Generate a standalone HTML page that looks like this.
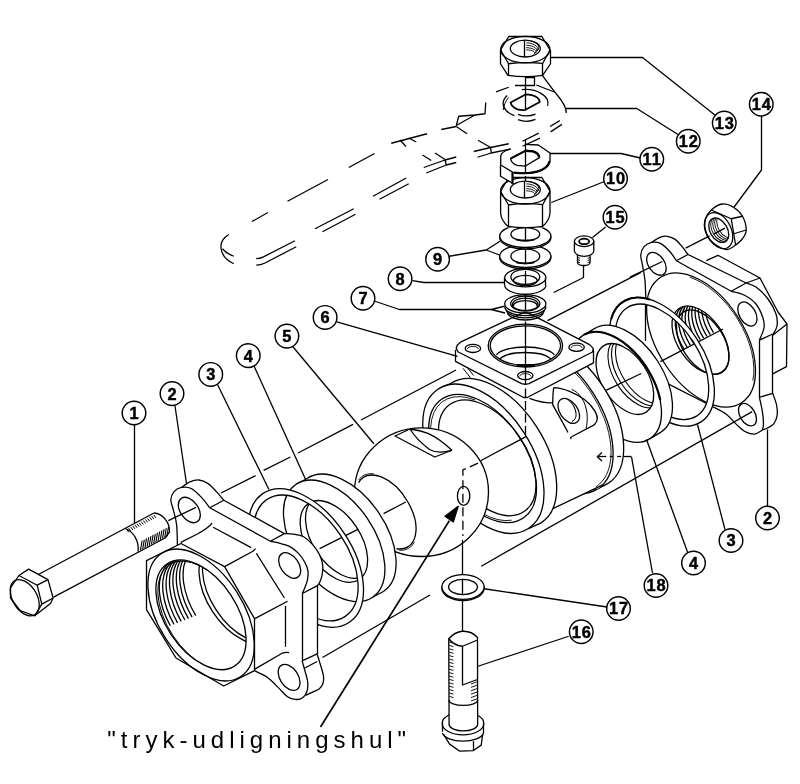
<!DOCTYPE html>
<html lang="da"><head><meta charset="utf-8"><title>Kugleventil - eksploderet tegning</title>
<style>
html,body{margin:0;padding:0;background:#fff}
body{width:800px;height:784px;overflow:hidden}
svg{display:block}
svg text{font-family:"Liberation Sans",sans-serif;fill:#000}
</style></head><body>
<svg style="will-change:transform" width="800" height="784" viewBox="0 0 800 784">
<rect width="800" height="784" fill="#fff"/>
<g fill="none" stroke="#000" stroke-width="1.3" stroke-linejoin="round">
<path d="M706.3 260.7L717.9 255.3L760 278L778 312L787 324L786.5 366.7L772.7 373.9L759.4 397.3L700 330Z" fill="#fff" stroke="none"/>
<path d="M706.3 260.7L717.9 255.3L760 278L778 312L787 324L786.5 366.7L772.7 373.9"/>
<path d="M746.1 283L760 278"/>
<path d="M773 335L787 324"/>
<path d="M645.5 298L644.9 279.7L642.4 264.8L640.8 254.9L644.1 246.6L651.6 242.4L659.9 237.4L667.3 236.3L674.8 239.1L681.4 245.7L688 254.5L746.1 283L756 287L768 299L776 314L777 326L772.5 335L772.5 393.3L776.7 405.5L777.1 415.7L773.7 423.9L767.6 428L762.4 430L762.4 430L754.3 434.1L744.1 431L735.9 423.9L725.7 413.7L712.4 406.5L660 400L645.5 341Z" fill="#fff" stroke="none"/>
<path d="M645.8 298C645.65 294.95 645.47 285.23 644.9 279.7C644.33 274.17 643.08 268.93 642.4 264.8C641.72 260.67 640.52 257.93 640.8 254.9C641.08 251.87 642.3 248.68 644.1 246.6C645.9 244.52 648.97 242.97 651.6 242.4C654.23 241.83 656.87 241.68 659.9 243.2C662.93 244.72 667.05 248.58 669.8 251.5C672.55 254.42 675.3 259.17 676.4 260.7"/>
<path d="M651.6 242.4C652.98 241.57 657.28 238.42 659.9 237.4C662.52 236.38 664.82 236.02 667.3 236.3C669.78 236.58 672.45 237.53 674.8 239.1C677.15 240.67 679.2 243.13 681.4 245.7C683.6 248.27 686.9 253.03 688 254.5"/>
<path d="M676.4 260.7L688 254.5"/>
<ellipse cx="656.4" cy="263.8" rx="12.68" ry="8.07" transform="rotate(55.39 656.4 263.8)"/>
<path d="M645.5 298L645.5 341"/>
<path d="M676.4 260.7L731.2 291.3"/>
<path d="M688 254.5L746.1 283"/>
<path d="M731.2 291.3L746.1 283"/>
<path d="M731.2 291.3C733.33 291.92 739.87 292.88 744 295C748.13 297.12 752.83 300.17 756 304C759.17 307.83 761.67 314 763 318C764.33 322 764.6 324.3 764 328C763.4 331.7 760.17 338.17 759.4 340.2"/>
<path d="M746.1 283C747.75 283.67 752.35 284.33 756 287C759.65 289.67 764.67 294.5 768 299C771.33 303.5 774.5 309.5 776 314C777.5 318.5 777.55 322.5 777 326C776.45 329.5 773.42 333.5 772.7 335"/>
<ellipse cx="747.4" cy="314" rx="13.07" ry="8.08" transform="rotate(59.68 747.4 314)"/>
<path d="M759.4 340.2L772.7 334"/>
<path d="M759.5 340.2L759.5 397.3"/>
<path d="M772.5 334.5L772.5 393.3"/>
<path d="M759.4 397.3L772.7 393.3"/>
<path d="M655 377.2L712.4 406.5"/>
<path d="M712.4 406.5C714.62 407.7 721.78 410.8 725.7 413.7C729.62 416.6 732.83 421.02 735.9 423.9C738.97 426.78 741.03 429.3 744.1 431C747.17 432.7 751.25 434.27 754.3 434.1C757.35 433.93 761.05 430.68 762.4 430"/>
<path d="M759.4 397.3C759.9 399.68 761.72 407.17 762.4 411.6C763.08 416.03 763.5 420.83 763.5 423.9C763.5 426.97 762.58 428.98 762.4 430"/>
<path d="M772.7 393.3C773.37 395.33 775.97 401.77 776.7 405.5C777.43 409.23 777.6 412.63 777.1 415.7C776.6 418.77 775.28 421.85 773.7 423.9C772.12 425.95 769.48 426.98 767.6 428C765.72 429.02 763.27 429.67 762.4 430"/>
<ellipse cx="747.5" cy="414.7" rx="12.22" ry="7.56" transform="rotate(59.43 747.5 414.7)"/>
<ellipse cx="701.05" cy="340" rx="74.63" ry="43.4" transform="rotate(57.21 701.05 340)" fill="#fff"/>
<path d="M690.06 277.33A72.41 42.12 57.19 0 1 752.87 380.68" stroke-width="0.9"/>
<ellipse cx="700.5" cy="340.15" rx="38.35" ry="22.53" transform="rotate(55.78 700.5 340.15)"/>
<clipPath id="c1"><path d="M722.06 371.86A38.35 22.53 55.78 0 1 678.94 308.44A38.35 22.53 55.78 0 1 722.06 371.86Z"/></clipPath><g clip-path="url(#c1)">
<path d="M706.7 309.78A38.35 22.53 55.78 0 0 683.81 348.95"/>
<path d="M710 307.98A38.35 22.53 55.78 0 0 687.11 347.15"/>
<path d="M713.3 306.18A38.35 22.53 55.78 0 0 690.41 345.35"/>
<path d="M716.6 304.38A38.35 22.53 55.78 0 0 693.71 343.55"/>
<path d="M719.9 302.58A38.35 22.53 55.78 0 0 697.01 341.75"/>
<path d="M723.2 300.78A38.35 22.53 55.78 0 0 700.31 339.95"/>
<path d="M726.5 298.98A38.35 22.53 55.78 0 0 703.61 338.15"/>
<path d="M729.8 297.18A38.35 22.53 55.78 0 0 706.91 336.35"/>
<path d="M733.1 295.38A38.35 22.53 55.78 0 0 710.21 334.55"/>
<path d="M736.4 293.58A38.35 22.53 55.78 0 0 713.48 332.69"/>
</g>
<ellipse cx="702.75" cy="342.15" rx="35.86" ry="20.9" transform="rotate(56.97 702.75 342.15)"/>
<path d="M660.4 361.6L723 329"/>
<path d="M705 220C706.04 216.67 708.33 212.67 711.25 210C714.17 207.33 718.75 204.42 722.5 204C726.25 203.58 730.42 205.46 733.75 207.5C737.08 209.54 740.42 212.5 742.5 216.25C744.58 220 746.25 226.25 746.25 230C746.25 233.75 744.27 236.25 742.5 238.75C740.73 241.25 738.02 243.22 735.6 245C733.18 246.78 730.6 248.98 728 249.4C725.4 249.82 723 249.07 720 247.5C717 245.93 712.5 242.92 710 240C707.5 237.08 705.83 233.33 705 230C704.17 226.67 703.96 223.33 705 220Z" fill="#fff"/>
<path d="M711.25 210L731.25 218.75L742.5 216.25"/>
<path d="M731.25 218.75L733.75 233.75L735.6 245"/>
<path d="M733.75 233.75L746.25 230"/>
<ellipse cx="718.75" cy="230.6" rx="19.21" ry="12.29" transform="rotate(62.98 718.75 230.6)"/>
<ellipse cx="718.75" cy="230.2" rx="13.18" ry="8.67" transform="rotate(59.88 718.75 230.2)"/>
<clipPath id="c2"><path d="M725.36 241.6A13.18 8.67 59.88 0 1 712.14 218.8A13.18 8.67 59.88 0 1 725.36 241.6Z"/></clipPath><g clip-path="url(#c2)">
<ellipse cx="720.75" cy="229.1" rx="13.18" ry="8.67" transform="rotate(59.88 720.75 229.1)" stroke-width="0.9"/>
<ellipse cx="722.75" cy="228" rx="13.18" ry="8.67" transform="rotate(59.88 722.75 228)" stroke-width="0.9"/>
<ellipse cx="724.75" cy="226.9" rx="13.18" ry="8.67" transform="rotate(59.88 724.75 226.9)" stroke-width="0.9"/>
<ellipse cx="726.75" cy="225.8" rx="13.18" ry="8.67" transform="rotate(59.88 726.75 225.8)" stroke-width="0.9"/>
</g>
<path d="M713.5 234.2L725 228.2"/>
<path d="M630 277.2L662.3 261.5"/>
<path d="M685.6 248.2L709.6 235.8"/>
<path d="M701.02 421.84A71.6 41.72 56.98 0 1 622.98 301.76A71.6 41.72 56.98 0 1 701.02 421.84ZM696.9 415.92A64.4 37.46 57.18 0 1 627.1 307.68A64.4 37.46 57.18 0 1 696.9 415.92Z" fill="#fff" fill-rule="evenodd"/>
<path d="M611.17 319.31A71.6 41.72 56.98 0 1 649.91 299.52" stroke-width="2.0"/>
<path d="M649.98 438.64A61.54 35.84 57.05 0 1 583.02 335.36A61.54 35.84 57.05 0 1 649.98 438.64ZM660.98 432.14A61.54 35.84 57.05 0 1 594.02 328.86A61.54 35.84 57.05 0 1 660.98 432.14Z" fill="#fff" stroke="none"/>
<path d="M594.02 328.86A61.54 35.84 57.05 0 1 657.57 361.01A61.54 35.84 57.05 0 1 660.98 432.14"/>
<path d="M649.98 438.64L660.98 432.14L594.02 328.86L583.02 335.36Z" fill="#fff" stroke="none"/>
<path d="M649.98 438.64L660.98 432.14"/>
<path d="M583.02 335.36L594.02 328.86"/>
<ellipse cx="616.5" cy="387" rx="61.54" ry="35.84" transform="rotate(57.05 616.5 387)" fill="#fff"/>
<path d="M584.17 334.66A61.54 35.84 57.05 0 1 660.22 400.07" stroke-width="2.2"/>
<ellipse cx="624.85" cy="379" rx="39.47" ry="22.98" transform="rotate(57.06 624.85 379)"/>
<clipPath id="c3"><path d="M646.31 412.12A39.47 22.98 57.06 0 1 603.39 345.88A39.47 22.98 57.06 0 1 646.31 412.12Z"/></clipPath><g clip-path="url(#c3)">
<ellipse cx="636.85" cy="372.4" rx="39.47" ry="22.98" transform="rotate(57.06 636.85 372.4)" stroke-width="1.1"/>
<ellipse cx="640.35" cy="370.48" rx="39.47" ry="22.98" transform="rotate(57.06 640.35 370.48)" stroke-width="1.1"/>
<ellipse cx="644.35" cy="368.27" rx="39.47" ry="22.98" transform="rotate(57.06 644.35 368.27)" stroke-width="1.1"/>
</g>
<path d="M606 390.3L641.2 373.5"/>
<path d="M608.11 483.42A83.15 48.4 57.1 0 1 517.79 343.78A83.15 48.4 57.1 0 1 608.11 483.42ZM597.51 488.92A83.15 48.4 57.1 0 1 507.19 349.28A83.15 48.4 57.1 0 1 597.51 488.92Z" fill="#fff" stroke="none"/>
<path d="M517.79 343.78A83.15 48.4 57.1 0 1 603.59 387.32A83.15 48.4 57.1 0 1 608.11 483.42"/>
<path d="M597.51 488.92L608.11 483.42"/>
<ellipse cx="552.35" cy="419.1" rx="83.15" ry="48.4" transform="rotate(57.1 552.35 419.1)" fill="#fff"/>
<path d="M524.84 346.8A80.53 46.83 57.22 0 1 604.26 418.43A80.53 46.83 57.22 0 1 579.86 491.4" stroke-width="0.9"/>
<path d="M451.04 383.31L507.19 349.28L597.51 488.92L602.8 484.9L540 514.75Z" fill="#fff" stroke="none"/>
<path d="M540 514.75L602.8 484.9"/>
<path d="M553.6 387.7C553 394 552.6 400 552.7 404.6C556 411 561 419 568 432.5M553.6 387.7C563 388 576 393 585 400C594 407 597.5 415 597.3 419C597 422.5 595 424 593.8 425.2L573 436C571 437 569.5 438.5 571.4 438.6"/>
<path d="M571.8 389.5C580 392.5 585.5 402 587 413C587.6 420 587 425 586 428.5" stroke-width="1.0"/>
<ellipse cx="568.8" cy="410.9" rx="13.93" ry="8.88" transform="rotate(55.07 568.8 410.9)"/>
<clipPath id="c4"><path d="M576.77 422.32A13.93 8.88 55.07 0 1 560.83 399.48A13.93 8.88 55.07 0 1 576.77 422.32Z"/></clipPath><g clip-path="url(#c4)">
<path d="M565.92 398.3A13.93 8.88 55.07 0 1 571.98 421.46" stroke-width="1.1"/>
</g>
<path d="M529.5 398.4C535 400.5 543 403.2 552.7 402.9"/>
<path d="M528.41 528.54A83.04 48.31 57.16 0 1 438.34 389.01A83.04 48.31 57.16 0 1 528.41 528.54ZM541.11 522.84A83.04 48.31 57.16 0 1 451.04 383.31A83.04 48.31 57.16 0 1 541.11 522.84Z" fill="#fff" stroke="none"/>
<path d="M451.04 383.31A83.04 48.31 57.16 0 1 536.67 426.88A83.04 48.31 57.16 0 1 541.11 522.84"/>
<path d="M528.41 528.54L541.11 522.84"/>
<path d="M438.34 389.01L451.04 383.31"/>
<ellipse cx="483.38" cy="458.77" rx="83.04" ry="48.31" transform="rotate(57.16 483.38 458.77)" fill="#fff"/>
<ellipse cx="482.62" cy="458.5" rx="72.07" ry="42.48" transform="rotate(55.31 482.62 458.5)"/>
<path d="M511.63 520.22A69.78 41.1 55.41 0 1 431.64 419.72" stroke-width="0.9"/>
<path d="M431.64 419.72A69.78 41.1 55.41 0 1 475.26 400.04" stroke-width="0.9"/>
<ellipse cx="487.25" cy="457.8" rx="65.13" ry="38.42" transform="rotate(55.2 487.25 457.8)"/>
<path d="M480.6 460.7L526 436.6"/>
<path d="M597.3 456.5L606.3 456.5"/>
<path d="M609.7 456.5L613.1 456.5"/>
<path d="M617.2 456.5L621.2 456.5"/>
<path d="M623.5 456.5L631.5 456.5"/>
<path d="M602 452.6L597.3 456.8L602 461"/>
<path d="M463 368.3L471.4 379M467 367L473.5 375.5" stroke-width="1.0"/>
<path d="M456.2 348.6L455.5 350L455.5 361.4L523.5 397.5L527.2 397.5L593.5 362.8L593.5 349.5L589.6 344.6Z" fill="#fff" stroke="none"/>
<path d="M455.5 350L455.5 361.4L523.5 397.5L527.2 397.5L593.5 362.8L593.5 349.5"/>
<path d="M456.2 348.6L457.2 345.2L461 341.8L521 313.6L525.3 312.6L529.6 313.6L589.6 344.6L593.2 348.4L592.6 352L529 383.6L525.3 384.4L521.6 383.6L458.2 352Z" fill="#fff"/>
<ellipse cx="472.9" cy="348.4" rx="7.7" ry="4.1"/>
<ellipse cx="576.6" cy="347.2" rx="7.7" ry="4.1"/>
<ellipse cx="525.3" cy="375.6" rx="7.7" ry="4.1"/>
<path d="M467.3 349.2A5.6 2.8 0 0 1 472.9 346.4A5.6 2.8 0 0 1 478.5 349.2" stroke-width="0.9"/>
<path d="M571 348A5.6 2.8 0 0 1 576.6 345.2A5.6 2.8 0 0 1 582.2 348" stroke-width="0.9"/>
<path d="M519.7 376.4A5.6 2.8 0 0 1 525.3 373.6A5.6 2.8 0 0 1 530.9 376.4" stroke-width="0.9"/>
<ellipse cx="525.4" cy="345.6" rx="37.2" ry="21.4"/>
<ellipse cx="525.4" cy="345.6" rx="35.2" ry="19.8"/>
<path d="M496.42 354.78A30 10.5 0 0 1 554.38 354.78"/>
<path d="M500.03 358.75A27 9.5 0 0 1 550.77 358.75"/>
<path d="M516.6 365.4L535 365.4" stroke-width="2.6"/>
<ellipse cx="421.5" cy="492.2" rx="67" ry="64.3" fill="#fff"/>
<path d="M410 429L395 436L434.75 457L452 450.25"/>
<path d="M410 429C417 430 423 431.5 428 433.4C435 436.5 444 443 452 450.25"/>
<path d="M410 429C413 434 419 441.5 429.5 449.5C436 453.2 444 452.5 451.5 450.4"/>
<path d="M358.69 482.57A41.23 23.99 57.16 0 1 408.03 502.24A41.23 23.99 57.16 0 1 396.52 548.74"/>
<path d="M358.45 480.12A42.81 24.93 57.06 0 1 373.92 473.74" stroke-width="0.9"/>
<path d="M414.59 541.82A42.81 24.93 57.06 0 1 399.23 550.37" stroke-width="0.9"/>
<path d="M383.6 513.6L405.8 502"/>
<ellipse cx="463.6" cy="495.9" rx="6.2" ry="9.5"/>
<path d="M478.1 463.2L462.9 469.8L462.9 536" stroke-dasharray="9 4.5"/>
<path d="M320.5 727L449.4 520.6" stroke-width="1.7"/>
<path d="M458.2 506.3L445 516.2L453.3 522Z" fill="#000"/>
<path d="M500.5 50L508.7 36.5L541.9 36.5L550.5 50L550.5 63.6L542.5 76.5L508.1 76.5L500.5 63.6Z" fill="#fff" stroke="none"/>
<path d="M500.6 50L508.7 36.5L541.9 36.5L550 50"/>
<ellipse cx="525.3" cy="49.6" rx="24.6" ry="13.3"/>
<ellipse cx="525.3" cy="48.6" rx="15" ry="8.4"/>
<path d="M526.48 40.43A13.5 7.2 0 0 1 537.54 50.64" stroke-width="0.9"/>
<path d="M526.39 42.82A12.5 6.2 0 0 1 536.63 51.62" stroke-width="0.9"/>
<path d="M526.3 45.22A11.5 5.2 0 0 1 535.72 52.6" stroke-width="0.9"/>
<path d="M526.22 47.62A10.5 4.2 0 0 1 534.82 53.57" stroke-width="0.9"/>
<path d="M526.13 49.81A9.5 3.2 0 0 1 533.91 54.35" stroke-width="0.9"/>
<path d="M524.5 40.2L524.5 57"/>
<path d="M500.6 50L508.5 63.75L508.5 75.1"/>
<path d="M550 50L542.5 63.75L542.5 75.1"/>
<path d="M508.1 63.75Q525.3 61.5 542.5 63.4"/>
<path d="M500.5 50L500.5 63.75L508.1 75.6"/>
<path d="M550.5 50L550.5 63.75L542.5 75.6"/>
<path d="M508.1 75.4Q525.3 78 542.5 75.4"/>
<path d="M525.5 77L525.5 110.5"/>
<path d="M525.3 77.5L534.5 77.5L534.5 85.5L515 85.5"/>
<ellipse cx="525.3" cy="257.7" rx="25.6" ry="11.3" fill="#fff"/>
<ellipse cx="525.3" cy="256.2" rx="25.6" ry="11.3" fill="#fff"/>
<ellipse cx="525.3" cy="256.2" rx="14.4" ry="7.4"/>
<path d="M516.3 262.4Q525.3 264.2 534.3 262.4" stroke-width="1.8"/>
<ellipse cx="525.3" cy="237.7" rx="25.6" ry="11.3" fill="#fff"/>
<ellipse cx="525.3" cy="236.2" rx="25.6" ry="11.3" fill="#fff"/>
<ellipse cx="525.3" cy="234.2" rx="14.4" ry="6.6"/>
<path d="M516.3 239.6Q525.3 241.39999999999998 534.3 239.6" stroke-width="1.8"/>
<path d="M525.5 228.4L525.5 240.5"/>
<path d="M525.5 249.5L525.5 263.5"/>
<path d="M500.5 191.25L508.7 177.5L541.9 177.5L550.5 191.25L550.5 215L542.5 227.5L508.1 227.5L500.5 215Z" fill="#fff" stroke="none"/>
<path d="M500.6 191.25L508.7 177.5L541.9 177.5L550 191.25"/>
<ellipse cx="525.3" cy="190.85" rx="24.6" ry="13.3"/>
<ellipse cx="525.3" cy="189.6" rx="15" ry="8.4"/>
<path d="M526.48 181.43A13.5 7.2 0 0 1 537.54 191.64" stroke-width="0.9"/>
<path d="M526.39 183.82A12.5 6.2 0 0 1 536.63 192.62" stroke-width="0.9"/>
<path d="M526.3 186.22A11.5 5.2 0 0 1 535.72 193.6" stroke-width="0.9"/>
<path d="M526.22 188.62A10.5 4.2 0 0 1 534.82 194.57" stroke-width="0.9"/>
<path d="M526.13 190.81A9.5 3.2 0 0 1 533.91 195.35" stroke-width="0.9"/>
<path d="M524.5 181.2L524.5 198"/>
<path d="M500.6 191.25L508.5 205L508.5 226.5"/>
<path d="M550 191.25L542.5 205L542.5 226.5"/>
<path d="M508.1 205Q525.3 202.5 542.5 204.6"/>
<path d="M500.6 191.25L500.6 213C501.1 219 505.1 224 508.1 226.6"/>
<path d="M550.0 191.25L550.0 213C549.5 219 545.5 224 542.5 226.6"/>
<path d="M508.1 226.4Q525.3 229 542.5 226.4"/>
<path d="M525.5 176L525.5 181"/>
<path d="M510.6 149.2C504.5 150.3 501 152.6 500.7 156.5L500.7 176.25L512.9 183.4L512.9 172.4C521 173.6 530 173.3 536 172C543 170.5 549.5 166 550 161L550 153L538.3 145L525 144.3Z" fill="#fff" stroke="none"/>
<path d="M510.6 149.2C504.5 150.3 501 152.6 500.7 156.5L500.7 165M525 144.3L538.3 145L550 153L550 161C549.5 166 543 170.5 536 172C530 173.3 521 173.6 513 172.4L500.7 165"/>
<path d="M514 172.6C522 173.6 531 173.2 537 171.6C543.5 170 549 166 549.6 161" stroke-width="2.2"/>
<path d="M500.5 165L500.5 176.25L512.6 183.2"/>
<path d="M512.5 172.4L512.5 184" stroke-width="2.2"/>
<path d="M510.6 158.6L525.5 150.6L533 151.2C537 152.5 539.2 155 539.4 157.6L525 166.2L517 165.3C513.5 164 511 161.5 510.6 158.6Z"/>
<path d="M525.5 150.8L533 151.4C537 152.7 539 155 539.2 157.4" stroke-width="2.4"/>
<path d="M510.9 158.4L525.5 150.8" stroke-width="2.0"/>
<path d="M525.5 140L525.5 173"/>
<ellipse cx="525.3" cy="277.6" rx="20.6" ry="9.2"/>
<ellipse cx="525.3" cy="276.9" rx="14.4" ry="7.6"/>
<ellipse cx="525.3" cy="280.5" rx="11.9" ry="5.2"/>
<path d="M504.5 277.6L504.5 285"/>
<path d="M545.5 277.6L545.5 285"/>
<path d="M545.9 285A20.6 9.2 0 0 1 525.3 294.2A20.6 9.2 0 0 1 504.7 285"/>
<path d="M525.5 271L525.5 284"/>
<ellipse cx="525.3" cy="303.8" rx="20.6" ry="9.2"/>
<ellipse cx="525.3" cy="303.6" rx="14.6" ry="7.6"/>
<ellipse cx="525.3" cy="304.4" rx="12.8" ry="6.2"/>
<path d="M513.3 306A12 5.4 0 0 1 525.3 300.6A12 5.4 0 0 1 537.3 306"/>
<path d="M545.9 306.4A20.6 9.2 0 0 1 525.3 315.6A20.6 9.2 0 0 1 504.7 306.4"/>
<path d="M544.51 310.22A19.4 8.8 0 0 1 506.09 310.22"/>
<path d="M543.3 313.35A18.4 8.4 0 0 1 507.3 313.35"/>
<path d="M525.5 295L525.5 311"/>
<path d="M525.5 321.5L525.5 376"/>
<path d="M525.5 376L525.5 437" stroke-dasharray="9 3.5"/>
<path d="M252 221.5L268 212.5"/>
<path d="M287.5 201.25L328 179.5"/>
<path d="M348.75 167.5L374.5 153.5"/>
<path d="M391.25 143.25L427 133.75"/>
<path d="M315 228.75L353.75 208.75"/>
<path d="M322.5 231.75L355.5 214.25"/>
<path d="M373 196.25L406.25 178"/>
<path d="M379.5 199.25L408.75 183.75"/>
<path d="M400 140L406 146.5"/>
<path d="M408.75 138L416.25 142"/>
<path d="M441.25 129.5L456.25 126.5"/>
<path d="M456.25 126.5L467 133.75"/>
<path d="M456.25 125.5L475 115"/>
<path d="M422.5 155L431.25 160.5"/>
<path d="M435 153L445 159.5"/>
<path d="M445 159.5L446.25 165"/>
<path d="M478 140.25L490.6 147.5"/>
<path d="M490.6 147.5L491.25 153"/>
<path d="M522.5 141.25L538.75 133.1"/>
<path d="M522.5 146.25L540 138.1"/>
<path d="M550 126.5L559.75 120.6"/>
<path d="M550.6 131.9L561.9 124.4"/>
<path d="M496 91.9L508.75 87.25"/>
<path d="M536.25 85L555 92.25"/>
<path d="M256.25 258.6C259 258.6 261 258 263.5 256.8L295 240.75"/>
<path d="M256.25 265.2C259 265.2 262 264.5 265 263L296.25 246.75"/>
<path d="M228.75 234.5C223 238 220.5 243 221 248C221.5 254 226 260 233.75 263.75"/>
<path d="M222.5 248.75C225 252 229 254.5 233.75 256.25"/>
<path d="M456.25 125.5L458.75 116.25L475 115L485 113.75L485.75 102.5"/>
<path d="M423.75 167.5L445 160L456.25 157"/>
<path d="M426.25 173L446.25 165L456.25 162.5"/>
<path d="M473.75 151.5L490.6 147.5L508.75 143.75"/>
<path d="M477.5 157.25L491.25 153L510.6 149"/>
<path d="M510.6 102.5L525.6 94.4C530 94.6 534 95.6 536.25 96.9C538.5 98.3 539.6 100 539.75 101.9L525 110C522 110.2 519.5 109.9 517.5 109.4C514 108 511.2 105.5 510.6 102.5Z" stroke-width="1.7"/>
<path d="M521.71 89.71A22.4 14 0 0 1 547.66 105.93"/>
<path d="M514.4 115.62A22.4 14 0 0 1 507.25 95.47"/>
<path d="M535.5 114.09A18 12.8 0 0 1 518.05 114.3"/>
<path d="M535.5 119.43A18 13.2 0 0 1 518.05 119.65"/>
<path d="M542.5 75.6C548 83 553 90 558 96C563 102 566.3 107 566.3 113"/>
<path d="M503.2 110C504 105 505.5 101 508.5 97.5" stroke-width="1.0"/>
<path d="M577.5 254L577.5 262.5A6.3 3 0 0 0 590.1 262.5L590.1 254" fill="#fff"/>
<path d="M574.4 241.25L574.4 251A9.7 5.3 0 0 0 593.8 251L593.8 241.25Z" fill="#fff"/>
<ellipse cx="584.1" cy="241.25" rx="9.7" ry="5.3" fill="#fff"/>
<ellipse cx="584.1" cy="241.4" rx="5" ry="2.75" stroke-width="1.8"/>
<path d="M577.5 257.6L580 258.2" stroke-width="0.9"/>
<path d="M587.6 258.2L590.1 257.6" stroke-width="0.9"/>
<path d="M577.5 259.8L580 260.4" stroke-width="0.9"/>
<path d="M587.6 260.4L590.1 259.8" stroke-width="0.9"/>
<path d="M577.5 262L580 262.6" stroke-width="0.9"/>
<path d="M587.6 262.6L590.1 262" stroke-width="0.9"/>
<path d="M583.5 265L583.5 277.5L553.75 292.5"/>
<path d="M372.58 597.25A68.18 40.08 55.74 0 1 295.82 484.55A68.18 40.08 55.74 0 1 372.58 597.25ZM383.78 591.25A68.18 40.08 55.74 0 1 307.02 478.55A68.18 40.08 55.74 0 1 383.78 591.25Z" fill="#fff" stroke="none"/>
<path d="M372.58 597.25L383.78 591.25L307.02 478.55L295.82 484.55Z" fill="#fff" stroke="none"/>
<path d="M307.02 478.55A68.18 40.08 55.74 0 1 378.52 512.34A68.18 40.08 55.74 0 1 383.78 591.25"/>
<path d="M372.58 597.25L383.78 591.25"/>
<path d="M295.82 484.55L307.02 478.55"/>
<ellipse cx="334.2" cy="540.9" rx="68.18" ry="40.08" transform="rotate(55.74 334.2 540.9)" fill="#fff"/>
<ellipse cx="333.9" cy="541.4" rx="45.67" ry="26.73" transform="rotate(56.35 333.9 541.4)"/>
<clipPath id="c5"><path d="M359.21 579.42A45.67 26.73 56.35 0 1 308.59 503.38A45.67 26.73 56.35 0 1 359.21 579.42Z"/></clipPath><g clip-path="url(#c5)">
<ellipse cx="339.2" cy="537.4" rx="45.67" ry="26.73" transform="rotate(56.35 339.2 537.4)"/>
</g>
<path d="M319.6 548.6L358.4 529.2"/>
<path d="M349.38 622.26A77.54 45.49 56.03 0 1 262.72 493.64A77.54 45.49 56.03 0 1 349.38 622.26ZM345.26 616.34A70.33 41.23 56.12 0 1 266.84 499.56A70.33 41.23 56.12 0 1 345.26 616.34Z" fill="#fff" fill-rule="evenodd"/>
<path d="M177.4 545L176.6 524.7L173.3 509.8L170.8 499.9L174.1 491.6L181.6 487.4L189.9 481.9L199 480L208.1 483.6L216.4 491.6L223.8 500.2L284.4 533.6L293.4 534.2L303.6 536.8L312.5 544.4L319.5 554.6L322.7 564.8L322.1 575L319.5 582.7L317 585.9L317.2 654.4L320.4 664.6L323.5 676.1L322.9 683.8L319.1 688.9L312.7 692.1L305.7 695.3L300 699.5L293.6 699.5L287.2 696.5L279.5 688.9L271.9 681.2L265.5 676.1L254.8 670.8L223.7 686L176 658L146.5 609.6L146.5 560.6L181 543.5Z" fill="#fff" stroke="none"/>
<path d="M177.4 545C177.27 541.62 177.28 530.57 176.6 524.7C175.92 518.83 174.27 513.93 173.3 509.8C172.33 505.67 170.67 502.93 170.8 499.9C170.93 496.87 172.3 493.68 174.1 491.6C175.9 489.52 178.7 487.9 181.6 487.4C184.5 486.9 188.18 486.93 191.5 488.6C194.82 490.27 198.45 494.2 201.5 497.4C204.55 500.6 208.42 506.07 209.8 507.8"/>
<path d="M181.6 487.4C182.98 486.48 187 483.13 189.9 481.9C192.8 480.67 195.97 479.72 199 480C202.03 480.28 205.2 481.67 208.1 483.6C211 485.53 213.78 488.83 216.4 491.6C219.02 494.37 222.57 498.77 223.8 500.2"/>
<path d="M209.8 507.8L223.8 500.2"/>
<ellipse cx="189.3" cy="510" rx="14.16" ry="9.04" transform="rotate(54.91 189.3 510)"/>
<path d="M209.8 507.8L270.4 541.3"/>
<path d="M223.8 500.2L284.4 533.6"/>
<path d="M270.4 541.3L284.4 533.6"/>
<path d="M270.4 541.3C271.88 541.62 276.12 542.35 279.3 543.2C282.48 544.05 286.3 544.7 289.5 546.4C292.7 548.1 295.95 550.75 298.5 553.4C301.05 556.05 303.22 559.33 304.8 562.3C306.38 565.27 307.57 568.22 308 571.2C308.43 574.18 307.93 577.43 307.4 580.2C306.87 582.97 305.65 585.58 304.8 587.8C303.95 590.02 302.72 592.55 302.3 593.5"/>
<path d="M284.4 533.6C285.9 533.7 290.2 533.67 293.4 534.2C296.6 534.73 300.42 535.1 303.6 536.8C306.78 538.5 309.85 541.43 312.5 544.4C315.15 547.37 317.8 551.2 319.5 554.6C321.2 558 322.27 561.4 322.7 564.8C323.13 568.2 322.63 572.02 322.1 575C321.57 577.98 320.35 580.88 319.5 582.7C318.65 584.52 317.42 585.37 317 585.9"/>
<path d="M302.3 593.5L317 585.9"/>
<ellipse cx="289.7" cy="565.5" rx="14.2" ry="9.05" transform="rotate(55.16 289.7 565.5)"/>
<path d="M302.5 593.5L302.5 660.8"/>
<path d="M317.5 585.9L317.5 654.4"/>
<path d="M302.1 660.8C302.58 662.5 304.08 667.6 305 671C305.92 674.4 307.17 678.22 307.6 681.2C308.03 684.18 308.03 686.55 307.6 688.9C307.17 691.25 306.27 693.6 305 695.3C303.73 697 301.9 698.47 300 699.1C298.1 699.73 295.73 699.53 293.6 699.1C291.47 698.67 289.55 698.2 287.2 696.5C284.85 694.8 282.05 691.45 279.5 688.9C276.95 686.35 274.23 683.33 271.9 681.2C269.57 679.07 268.35 677.83 265.5 676.1C262.65 674.37 256.58 671.68 254.8 670.8"/>
<path d="M317.2 654.4C317.73 656.1 319.35 660.98 320.4 664.6C321.45 668.22 323.08 672.9 323.5 676.1C323.92 679.3 323.63 681.67 322.9 683.8C322.17 685.93 320.8 687.52 319.1 688.9C317.4 690.28 314.93 691.03 312.7 692.1C310.47 693.17 306.87 694.77 305.7 695.3"/>
<path d="M302.1 660.8L317.2 653.8"/>
<path d="M303.8 668.5L317.2 661.5"/>
<ellipse cx="289.1" cy="677.4" rx="14.35" ry="9.05" transform="rotate(56.94 289.1 677.4)"/>
<path d="M254.8 669.1L282.1 653.2C284.5 652.4 287 652.3 289.1 652.6"/>
<path d="M285.5 606L285.5 646.8"/>
<path d="M180.8 542.3L197.4 534C203 531 209 527.5 212 523.2"/>
<path d="M213.1 527.2L251.2 547.6"/>
<path d="M224.6 566.6L252.9 551.3L255.6 548.6"/>
<path d="M256.4 553.4L284.4 598"/>
<path d="M254.8 618.6L287.6 601.2"/>
<path d="M146.5 560.6L181 543.5L224.6 566.6L254.5 618.6L254.5 670.6L223.7 686L176 658L146.5 609.6Z" fill="#fff"/>
<ellipse cx="201.1" cy="615" rx="73.19" ry="42.47" transform="rotate(57.48 201.1 615)"/>
<ellipse cx="201" cy="614.8" rx="61.27" ry="35.81" transform="rotate(56.54 201 614.8)"/>
<clipPath id="c6"><path d="M234.78 665.92A61.27 35.81 56.54 0 1 167.22 563.68A61.27 35.81 56.54 0 1 234.78 665.92Z"/></clipPath><g clip-path="url(#c6)">
<ellipse cx="202.9" cy="616" rx="61.27" ry="35.81" transform="rotate(56.54 202.9 616)" stroke-width="0.9"/>
<ellipse cx="240" cy="594" rx="55.84" ry="32.59" transform="rotate(56.74 240 594)"/>
<ellipse cx="243.5" cy="592.2" rx="55.84" ry="32.59" transform="rotate(56.74 243.5 592.2)"/>
</g>
<clipPath id="c7"><path d="M234.78 665.92A61.27 35.81 56.54 0 1 167.22 563.68A61.27 35.81 56.54 0 1 234.78 665.92Z"/></clipPath><g clip-path="url(#c7)">
<path d="M207.15 565.92A61.27 35.81 56.54 0 0 170.31 625.76"/>
<path d="M210.55 564.07A61.27 35.81 56.54 0 0 173.97 624.38"/>
<path d="M213.95 562.22A61.27 35.81 56.54 0 0 177.58 622.9"/>
<path d="M217.35 560.37A61.27 35.81 56.54 0 0 181.19 621.42"/>
<path d="M220.75 558.52A61.27 35.81 56.54 0 0 184.86 620.03"/>
<path d="M224.15 556.67A61.27 35.81 56.54 0 0 188.47 618.55"/>
<path d="M227.55 554.82A61.27 35.81 56.54 0 0 192.09 617.07"/>
<path d="M230.95 552.97A61.27 35.81 56.54 0 0 195.76 615.67"/>
</g>
<path d="M38.8 574.2L154 513C162 513.5 170 522 169.5 532L165 538L53.6 597.1Z" fill="#fff" stroke="none"/>
<path d="M38.8 574.2L154 513"/>
<path d="M53.6 597.1L165 538"/>
<path d="M125.5 528.5C133 531.5 139.5 541 138 551.5"/>
<path d="M154 513C162 513.5 170 522 169.5 532L165 538"/>
<path d="M140.5 550.2L142.1 540.7" stroke-width="1.1"/>
<path d="M142.7 549.05L144.3 539.55" stroke-width="1.1"/>
<path d="M144.9 547.9L146.5 538.4" stroke-width="1.1"/>
<path d="M147.1 546.75L148.7 537.25" stroke-width="1.1"/>
<path d="M149.3 545.6L150.9 536.1" stroke-width="1.1"/>
<path d="M151.5 544.45L153.1 534.95" stroke-width="1.1"/>
<path d="M153.7 543.3L155.3 533.8" stroke-width="1.1"/>
<path d="M155.9 542.15L157.5 532.65" stroke-width="1.1"/>
<path d="M158.1 541L159.7 531.5" stroke-width="1.1"/>
<path d="M160.3 539.85L161.9 530.35" stroke-width="1.1"/>
<path d="M162.5 538.7L164.1 529.2" stroke-width="1.1"/>
<path d="M164.7 537.55L166.3 528.05" stroke-width="1.1"/>
<path d="M166.9 536.4L168.5 526.9" stroke-width="1.1"/>
<path d="M126.5 529.3L128.7 532.2" stroke-width="1.0"/>
<path d="M128.6 528.2L130.8 531.1" stroke-width="1.0"/>
<path d="M130.7 527.1L132.9 530" stroke-width="1.0"/>
<path d="M132.8 526L135 528.9" stroke-width="1.0"/>
<path d="M134.9 524.9L137.1 527.8" stroke-width="1.0"/>
<path d="M137 523.8L139.2 526.7" stroke-width="1.0"/>
<path d="M139.1 522.7L141.3 525.6" stroke-width="1.0"/>
<path d="M141.2 521.6L143.4 524.5" stroke-width="1.0"/>
<path d="M143.3 520.5L145.5 523.4" stroke-width="1.0"/>
<path d="M145.4 519.4L147.6 522.3" stroke-width="1.0"/>
<path d="M147.5 518.3L149.7 521.2" stroke-width="1.0"/>
<path d="M149.6 517.2L151.8 520.1" stroke-width="1.0"/>
<path d="M151.7 516.1L153.9 519" stroke-width="1.0"/>
<path d="M153.8 515L156 517.9" stroke-width="1.0"/>
<path d="M168.3 520.6L196 507.4"/>
<path d="M18.9 575.5L28.6 569.1L48 579.6L53.1 598L50.5 603.5L34.7 615.8L20 610.5L10.5 598L10.5 588Z" fill="#fff"/>
<path d="M18.9 575.5L37.2 585.2L48 579.6"/>
<path d="M37.2 585.2L41.8 604.1L53.1 598"/>
<path d="M41.8 604.1L34.7 615.8"/>
<ellipse cx="24.75" cy="597.7" rx="19.73" ry="12.19" transform="rotate(59.6 24.75 597.7)"/>
<ellipse cx="463" cy="588.2" rx="21.1" ry="12.3" fill="#fff"/>
<ellipse cx="463" cy="587" rx="21.1" ry="12.3" fill="#fff"/>
<ellipse cx="463" cy="587" rx="14.4" ry="7.6"/>
<path d="M462.5 540L462.5 574.8"/>
<path d="M462.5 579.4L462.5 594.4"/>
<path d="M462.5 600L462.5 631.5"/>
<path d="M442.2 723.4A20.8 11.5 0 0 1 483.8 723.4L483.8 733.9L481.2 745.1L473.1 750.7L459.8 751.2L449.6 744.1L444 734.9L442.2 731.8Z" fill="#fff" stroke="none"/>
<ellipse cx="463" cy="723.4" rx="20.8" ry="11.5"/>
<path d="M442.5 723.4L442.5 731.8"/>
<path d="M483.5 723.4L483.5 733"/>
<path d="M483.6 732.94A20.8 9.6 0 0 1 442.4 732.94"/>
<path d="M443.6 734.5L449.6 744.1L459.8 751.2L473.1 750.7L481.2 745.1L482.6 735"/>
<path d="M473.5 741.2L473.5 750.7"/>
<path d="M448.75 638.75C452 635 457 631.8 462.5 631.25C468 631 474 633.5 477.5 637.5L477.65 724.7A14.3 6.6 0 0 1 449.1 724.7Z" fill="#fff" stroke="none"/>
<path d="M449.1 724.7L448.75 638.75C452 635 457 631.8 462.5 631.25C468 631 474 633.5 477.5 637.5L477.65 724.7A14.3 6.6 0 0 1 449.1 724.7"/>
<path d="M448.75 638.75C452 643 457 645.8 462.5 646.25L477.5 640"/>
<path d="M462.5 646.25L462.5 685L477.5 679.5"/>
<path d="M477.7 700A14.4 5.4 0 0 1 463.3 705.4A14.4 5.4 0 0 1 448.9 700"/>
<path d="M449.2 642L453.5 643.2" stroke-width="0.9"/>
<path d="M449.2 645.4L453.5 646.6" stroke-width="0.9"/>
<path d="M449.2 648.8L453.5 650" stroke-width="0.9"/>
<path d="M449.2 652.2L453.5 653.4" stroke-width="0.9"/>
<path d="M449.2 655.6L453.5 656.8" stroke-width="0.9"/>
<path d="M449.2 659L453.5 660.2" stroke-width="0.9"/>
<path d="M449.2 662.4L453.5 663.6" stroke-width="0.9"/>
<path d="M449.2 665.8L453.5 667" stroke-width="0.9"/>
<path d="M449.2 669.2L453.5 670.4" stroke-width="0.9"/>
<path d="M449.2 672.6L453.5 673.8" stroke-width="0.9"/>
<path d="M449.2 676L453.5 677.2" stroke-width="0.9"/>
<path d="M449.2 679.4L453.5 680.6" stroke-width="0.9"/>
<path d="M449.2 682.8L453.5 684" stroke-width="0.9"/>
<path d="M449.2 686.2L453.5 687.4" stroke-width="0.9"/>
<path d="M449.2 689.6L453.5 690.8" stroke-width="0.9"/>
<path d="M449.2 693L453.5 694.2" stroke-width="0.9"/>
<path d="M449.2 696.4L453.5 697.6" stroke-width="0.9"/>
<path d="M471 684L477 681.8" stroke-width="0.9"/>
<path d="M471 687.4L477 685.2" stroke-width="0.9"/>
<path d="M471 690.8L477 688.6" stroke-width="0.9"/>
<path d="M471 694.2L477 692" stroke-width="0.9"/>
<path d="M471 697.6L477 695.4" stroke-width="0.9"/>
<path d="M471 701L477 698.8" stroke-width="0.9"/>
<circle cx="134" cy="413" r="11.8" fill="#fff" stroke-width="1.45"/>
<text x="134" y="418.9" font-size="16.4" font-weight="bold" text-anchor="middle" stroke-width="0.45">1</text>
<circle cx="172" cy="393.6" r="11.8" fill="#fff" stroke-width="1.45"/>
<text x="172" y="399.5" font-size="16.4" font-weight="bold" text-anchor="middle" stroke-width="0.45">2</text>
<circle cx="210.75" cy="374.4" r="11.8" fill="#fff" stroke-width="1.45"/>
<text x="210.75" y="380.3" font-size="16.4" font-weight="bold" text-anchor="middle" stroke-width="0.45">3</text>
<circle cx="248.25" cy="355.6" r="11.8" fill="#fff" stroke-width="1.45"/>
<text x="248.25" y="361.5" font-size="16.4" font-weight="bold" text-anchor="middle" stroke-width="0.45">4</text>
<circle cx="286.9" cy="336.1" r="11.8" fill="#fff" stroke-width="1.45"/>
<text x="286.9" y="342" font-size="16.4" font-weight="bold" text-anchor="middle" stroke-width="0.45">5</text>
<circle cx="325.1" cy="317.4" r="11.8" fill="#fff" stroke-width="1.45"/>
<text x="325.1" y="323.3" font-size="16.4" font-weight="bold" text-anchor="middle" stroke-width="0.45">6</text>
<circle cx="363" cy="298.25" r="11.8" fill="#fff" stroke-width="1.45"/>
<text x="363" y="304.15" font-size="16.4" font-weight="bold" text-anchor="middle" stroke-width="0.45">7</text>
<circle cx="400.1" cy="278.75" r="11.8" fill="#fff" stroke-width="1.45"/>
<text x="400.1" y="284.65" font-size="16.4" font-weight="bold" text-anchor="middle" stroke-width="0.45">8</text>
<circle cx="437.6" cy="259.25" r="11.8" fill="#fff" stroke-width="1.45"/>
<text x="437.6" y="265.15" font-size="16.4" font-weight="bold" text-anchor="middle" stroke-width="0.45">9</text>
<circle cx="615.5" cy="178.5" r="11.8" fill="#fff" stroke-width="1.45"/>
<text x="615.9" y="184.4" font-size="16.4" font-weight="bold" text-anchor="middle" letter-spacing="0.9" stroke-width="0.45">10</text>
<circle cx="651.75" cy="159.25" r="11.8" fill="#fff" stroke-width="1.45"/>
<text x="652.15" y="165.15" font-size="16.4" font-weight="bold" text-anchor="middle" letter-spacing="0.9" stroke-width="0.45">11</text>
<circle cx="688.25" cy="141.25" r="11.8" fill="#fff" stroke-width="1.45"/>
<text x="688.65" y="147.15" font-size="16.4" font-weight="bold" text-anchor="middle" letter-spacing="0.9" stroke-width="0.45">12</text>
<circle cx="724.25" cy="123" r="11.8" fill="#fff" stroke-width="1.45"/>
<text x="724.65" y="128.9" font-size="16.4" font-weight="bold" text-anchor="middle" letter-spacing="0.9" stroke-width="0.45">13</text>
<circle cx="761.25" cy="104.25" r="11.8" fill="#fff" stroke-width="1.45"/>
<text x="761.65" y="110.15" font-size="16.4" font-weight="bold" text-anchor="middle" letter-spacing="0.9" stroke-width="0.45">14</text>
<circle cx="615" cy="217.25" r="11.8" fill="#fff" stroke-width="1.45"/>
<text x="615.4" y="223.15" font-size="16.4" font-weight="bold" text-anchor="middle" letter-spacing="0.9" stroke-width="0.45">15</text>
<circle cx="581.25" cy="631.75" r="11.8" fill="#fff" stroke-width="1.45"/>
<text x="581.65" y="637.65" font-size="16.4" font-weight="bold" text-anchor="middle" letter-spacing="0.9" stroke-width="0.45">16</text>
<circle cx="618.5" cy="608.5" r="11.8" fill="#fff" stroke-width="1.45"/>
<text x="618.9" y="614.4" font-size="16.4" font-weight="bold" text-anchor="middle" letter-spacing="0.9" stroke-width="0.45">17</text>
<circle cx="656" cy="585.5" r="11.8" fill="#fff" stroke-width="1.45"/>
<text x="656.4" y="591.4" font-size="16.4" font-weight="bold" text-anchor="middle" letter-spacing="0.9" stroke-width="0.45">18</text>
<circle cx="693.5" cy="563" r="11.8" fill="#fff" stroke-width="1.45"/>
<text x="693.5" y="568.9" font-size="16.4" font-weight="bold" text-anchor="middle" stroke-width="0.45">4</text>
<circle cx="731" cy="540.5" r="11.8" fill="#fff" stroke-width="1.45"/>
<text x="731" y="546.4" font-size="16.4" font-weight="bold" text-anchor="middle" stroke-width="0.45">3</text>
<circle cx="767.5" cy="518" r="11.8" fill="#fff" stroke-width="1.45"/>
<text x="767.5" y="523.9" font-size="16.4" font-weight="bold" text-anchor="middle" stroke-width="0.45">2</text>
<path d="M134.5 425L134.5 523"/>
<path d="M175 406L186.4 483"/>
<path d="M217.5 384.5L268.9 489.5"/>
<path d="M253.9 365.75L305.6 479.4"/>
<path d="M292.5 346.25L373.9 443.75"/>
<path d="M336.75 321.9L457.5 356.4"/>
<path d="M375 301.25L399.4 309.5L491.25 309.5"/>
<path d="M504.4 306.25L491.25 309.5L505 313"/>
<path d="M412.5 280.6L423.75 282.5L504 282.5"/>
<path d="M449.25 256.25L486.25 250"/>
<path d="M500 241.25L486.25 250L499.4 255"/>
<path d="M551.25 202.5L604.5 181.5"/>
<path d="M550 153.5L621 153.5L640.5 158"/>
<path d="M566 108.5L636.75 108.5L678 134.5"/>
<path d="M550 57.5L642.5 57.5L715.5 115.5"/>
<path d="M761.5 116L761.5 170L733.75 207.5"/>
<path d="M605.6 226.9L592.5 237.5"/>
<path d="M568.75 636.25L478 666.25"/>
<path d="M484.25 588.75L607 607"/>
<path d="M652.5 573L631.5 456.8"/>
<path d="M687.5 552L646.5 439.5"/>
<path d="M725 529.5L697.5 424.5"/>
<path d="M767.5 506L767.5 429.5"/>
<path d="M221 493L255.6 475.6"/>
<path d="M263.6 470.4L290.4 457"/>
<path d="M298 453L353 424.4"/>
<path d="M361 420L456 370"/>
<path d="M547.5 320.6L641 272.4"/>
<path d="M322.5 657.5L430 595"/>
<path d="M481.25 566.25L752.2 411.6"/>
<text x="107.3" y="748" font-size="24" letter-spacing="5.0" stroke="none">"tryk-udligningshul"</text>
</g>
</svg>
</body></html>
